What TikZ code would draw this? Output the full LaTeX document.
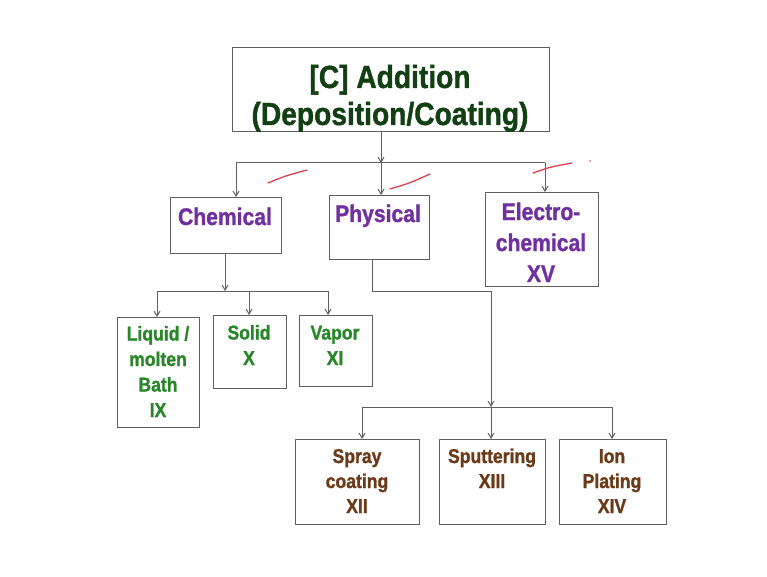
\documentclass[tikz,border=0pt]{standalone}
\usepackage{fontspec}
\usetikzlibrary{arrows.meta}
\newfontfamily\nf{Liberation Sans Bold}[FakeStretch=0.88,FakeBold=1.2]
\definecolor{topgreen}{HTML}{124012}
\definecolor{purp}{HTML}{7030A0}
\definecolor{grn}{HTML}{2A862A}
\definecolor{brn}{HTML}{6B3A18}
\definecolor{lin}{HTML}{606060}
\definecolor{tick}{HTML}{E0404F}
\tikzset{
  box/.style={draw=lin, line width=1.3pt, minimum width=#1, inner sep=0pt, anchor=north west},
  ttl/.style={font=\nf\fontsize{32}{37}\selectfont, text=topgreen, align=center, inner sep=0pt, anchor=base},
  mid/.style={font=\nf\fontsize{24}{31}\selectfont, text=purp, align=center, inner sep=0pt, anchor=base},
  low/.style={font=\nf\fontsize{20}{25.5}\selectfont, text=grn, align=center, inner sep=0pt, anchor=base},
  bot/.style={font=\nf\fontsize{20}{25}\selectfont, text=brn, align=center, inner sep=0pt, anchor=base},
  conn/.style={draw=lin, line width=1pt},
  arr/.style={conn, -{Straight Barb[length=5pt,width=6pt]}},
  redtick/.style={draw=tick, line width=1.3pt, line cap=round},
}
\begin{document}
\begin{tikzpicture}[x=1pt,y=-1pt]
\useasboundingbox[fill=white] (0,0) rectangle (767,577);
% boxes
\node[box=317pt, minimum height=84pt] (top) at (232,47) {};
\node[box=111pt, minimum height=56pt] (chem) at (170,197) {};
\node[box=100pt, minimum height=64pt] (phys) at (329,195) {};
\node[box=113pt, minimum height=94pt] (elec) at (485,192) {};
\node[box=82pt, minimum height=110pt] (liq) at (117,317) {};
\node[box=73pt, minimum height=73pt] (sol) at (213,315) {};
\node[box=73pt, minimum height=71pt] (vap) at (299,315) {};
\node[box=124pt, minimum height=85pt] (spr) at (295,439) {};
\node[box=106pt, minimum height=85pt] (spu) at (439,439) {};
\node[box=107pt, minimum height=85pt] (ion) at (559,439) {};
% texts (anchor base = baseline of the last line)
\node[ttl] (topt) at (390,125) {[C] Addition\\(Deposition/Coating)};
\node[mid] (chemt) at (225,225) {Chemical};
\node[mid] (physt) at (378,222) {Physical};
\node[mid] (elect) at (541,282) {Electro-\\chemical\\XV};
\node[low] (liqt) at (158,417) {Liquid /\\molten\\Bath\\IX};
\node[low] (solt) at (249,365) {Solid\\X};
\node[low] (vapt) at (335,365) {Vapor\\XI};
\node[bot] (sprt) at (357,513) {Spray\\coating\\XII};
\node[bot] (sput) at (492,488) {Sputtering\\XIII};
\node[bot] (iont) at (612,513) {Ion\\Plating\\XIV};
% bus coordinates
\coordinate (b1) at (381,163);
\coordinate (b1l) at (236,163);
\coordinate (b1r) at (545,163);
\coordinate (b2) at (225,291);
\coordinate (b2l) at (157,291);
\coordinate (b2m) at (249,291);
\coordinate (b2r) at (328,291);
\coordinate (pk1) at (372,291);
\coordinate (pk2) at (491,291);
\coordinate (b3) at (491,407);
\coordinate (b3l) at (362,407);
\coordinate (b3r) at (612,407);
% connectors level 1
\draw[arr] (top.south -| b1) -- (b1);
\draw[conn] (b1l) -- (b1r);
\draw[arr] (b1l) -- (b1l |- chem.north);
\draw[arr] (b1) -- (b1 |- phys.north);
\draw[arr] (b1r) -- (b1r |- elec.north);
% chemical branch
\draw[arr] (chem.south -| b2) -- (b2);
\draw[conn] (b2l) -- (b2r);
\draw[arr] (b2l) -- (b2l |- liq.north);
\draw[arr] (b2m) -- (b2m |- sol.north);
\draw[arr] (b2r) -- (b2r |- vap.north);
% physical branch
\draw[conn] (phys.south -| pk1) -- (pk1) -- (pk2);
\draw[arr] (pk2) -- (b3);
\draw[conn] (b3l) -- (b3r);
\draw[arr] (b3l) -- (b3l |- spr.north);
\draw[arr] (b3) -- (b3 |- spu.north);
\draw[arr] (b3r) -- (b3r |- ion.north);
% red tick marks
\draw[redtick] (268,183) .. controls (285,176) .. (307,170);
\draw[redtick] (390,189) .. controls (410,183) .. (430,174);
\draw[redtick] (533,173) .. controls (550,167) .. (572,163);
\fill[tick] (590,161) circle (0.9);
\end{tikzpicture}
\end{document}
